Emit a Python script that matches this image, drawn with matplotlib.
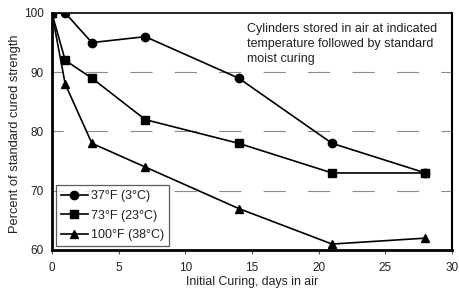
import matplotlib
matplotlib.use("Agg")
import matplotlib.pyplot as plt

plt.rcParams['font.family'] = ['Liberation Sans', 'DejaVu Sans']

days = [0, 1, 3, 7, 14, 21, 28]
s37 = [100, 100, 95, 96, 89, 78, 73]
s73 = [100, 92, 89, 82, 78, 73, 73]
s100 = [100, 88, 78, 74, 67, 61, 62]
labels = ["37°F (3°C)", "73°F (23°C)", "100°F (38°C)"]
markers = ["o", "s", "^"]

fig = plt.figure(figsize=(4.59, 2.88), dpi=100)
ax = fig.add_axes([0.113, 0.132, 0.872, 0.823])

for y, lab, m in zip([s37, s73, s100], labels, markers):
    ax.plot(days, y, color='black', lw=1.2, marker=m, markersize=6, label=lab)

ax.set_xlim(0, 30)
ax.set_ylim(60, 100)
ax.set_xticks([0, 5, 10, 15, 20, 25, 30])
ax.set_yticks([60, 70, 80, 90, 100])
for yv in [70, 80, 90]:
    ax.axhline(yv, color='#8a8a8a', lw=0.8, ls=(10, (20, 20)), zorder=0)

ax.spines['left'].set_linewidth(2)
ax.spines['bottom'].set_linewidth(2)
ax.spines['top'].set_linewidth(1.2)
ax.spines['right'].set_linewidth(1.5)
ax.tick_params(labelsize=8.5, length=3, width=0.8, color='#555555', labelcolor='#222222')
ax.tick_params(axis='x', pad=5.5)
ax.tick_params(axis='y', length=0, pad=6)

ax.set_ylabel("Percent of standard cured strength", fontsize=9.3, color='#222222')
ax.yaxis.set_label_coords(-0.076, 0.49)
ax.set_xlabel("Initial Curing, days in air", fontsize=8.8, color='#222222')
ax.xaxis.set_label_coords(0.5, -0.11)

ax.text(0.488, 0.957, "Cylinders stored in air at indicated\ntemperature followed by standard\nmoist curing",
        transform=ax.transAxes, fontsize=9, va='top', ha='left', color='#222222', linespacing=1.3)

leg = ax.legend(loc='lower left', fontsize=9, frameon=True, fancybox=False,
                edgecolor='#333333', borderaxespad=0.3, handlelength=2.2,
                handletextpad=0.25, labelspacing=0.6, borderpad=0.4)
leg.get_frame().set_linewidth(0.9)
for t in leg.get_texts():
    t.set_color('#222222')

fig.savefig("out.png", dpi=100)
